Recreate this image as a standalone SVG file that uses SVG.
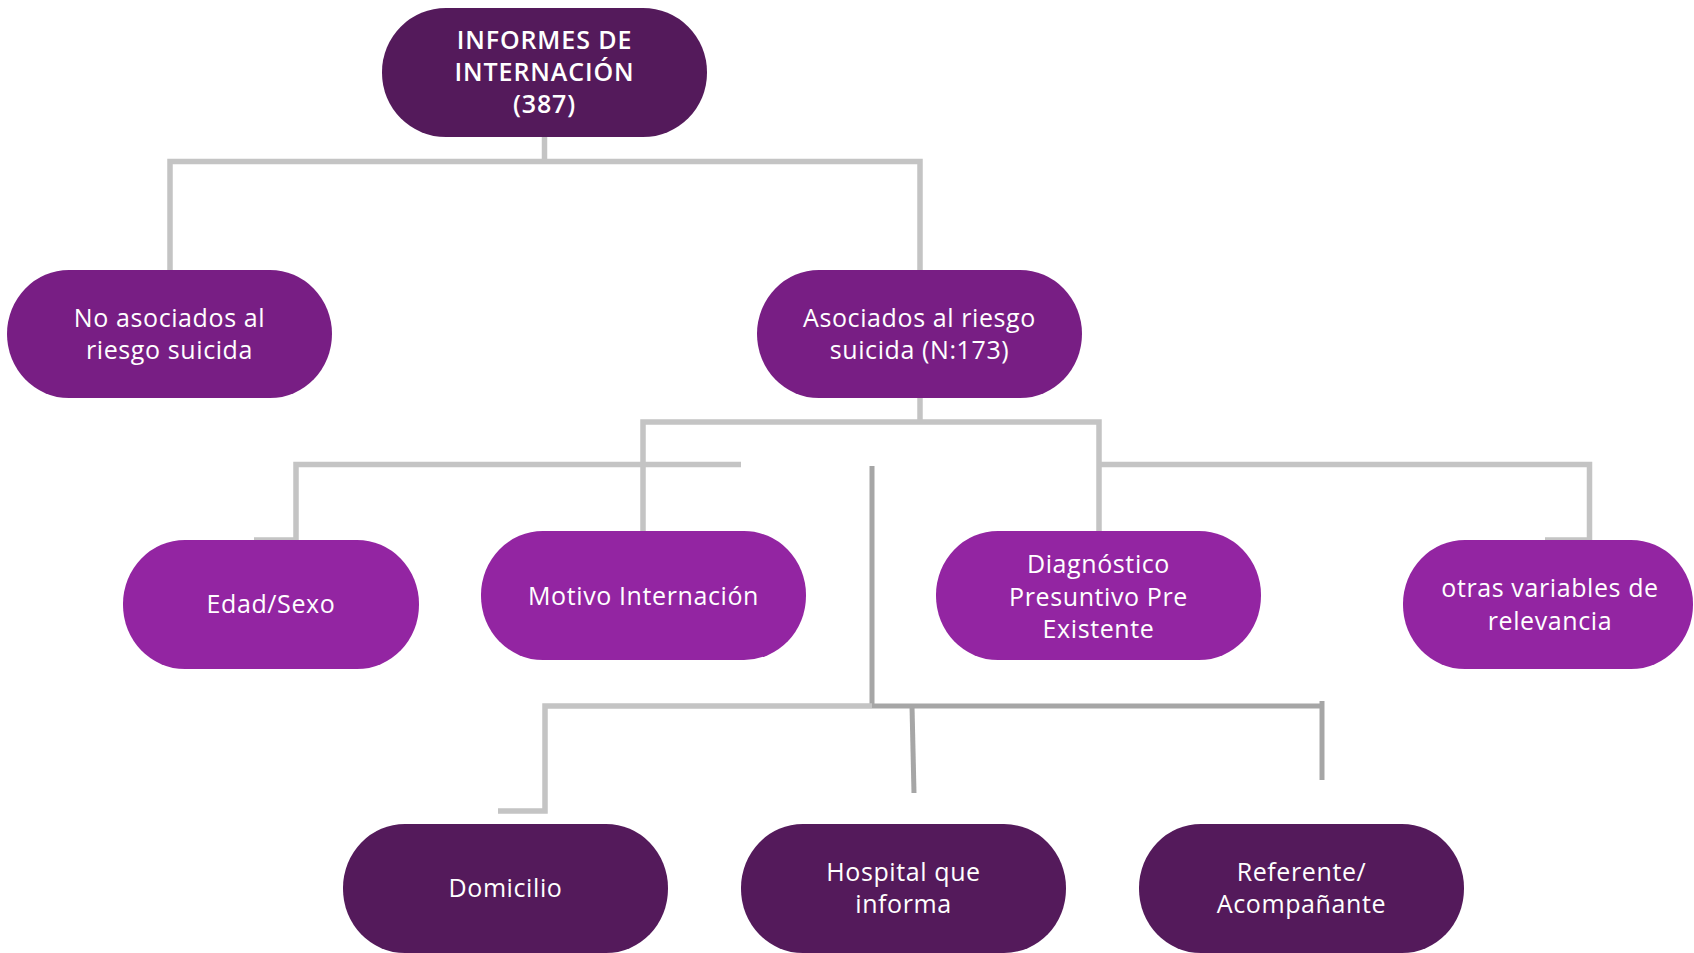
<svg xmlns="http://www.w3.org/2000/svg" width="1694" height="953" viewBox="0 0 1694 953">
<style>
.dark{fill:#541A5B}
.mid{fill:#781E84}
.light{fill:#9325A2}
text{font-family:"Open Sans","Liberation Sans",sans-serif;font-size:25px;fill:#ffffff;text-anchor:middle;letter-spacing:0.6px}
.bold{font-weight:600;letter-spacing:0.9px}
.ln{fill:none;stroke:#C4C4C4;stroke-width:5.5;stroke-linejoin:miter;stroke-linecap:butt}
.ln2{fill:none;stroke:#A6A6A6;stroke-width:5;stroke-linecap:butt}
</style>
<rect width="1694" height="953" fill="#ffffff"/>
<g id="connectors">
<polyline class="ln" points="544.5,137 544.5,161.5"/>
<polyline class="ln" points="170,270 170,161.5 920,161.5 920,270"/>
<polyline class="ln" points="920,398 920,422"/>
<polyline class="ln" points="643,531 643,422 1099,422 1099,531"/>
<polyline class="ln" points="254,540 296,540 296,464.5 741,464.5"/>
<polyline class="ln" points="1099,464.5 1589.5,464.5 1589.5,540 1545,540"/>
<polyline class="ln2" points="872,466 872,706"/>
<polyline class="ln" points="498,811 545,811 545,706 872,706"/>
<polyline class="ln2" points="872,706 1322,706"/>
<polyline class="ln2" points="1322,701 1322,780"/>
<polyline class="ln2" points="912,706 914,793"/>
</g>
<g id="root">
<rect class="dark" x="382" y="8" width="325" height="129" rx="64" ry="64"/>
<text class="bold" x="544.5" y="49">INFORMES DE</text>
<text class="bold" x="544.5" y="81">INTERNACIÓN</text>
<text class="bold" x="544.5" y="113">(387)</text>
</g>
<g id="no-asociados">
<rect class="mid" x="7" y="270" width="325" height="128" rx="62" ry="64"/>
<text x="169.5" y="327">No asociados al</text>
<text x="169.5" y="359">riesgo suicida</text>
</g>
<g id="asociados">
<rect class="mid" x="757" y="270" width="325" height="128" rx="62" ry="64"/>
<text x="919.5" y="327">Asociados al riesgo</text>
<text x="919.5" y="359">suicida (N:173)</text>
</g>
<g id="edad-sexo">
<rect class="light" x="123" y="540" width="296" height="129" rx="62" ry="64"/>
<text x="271" y="613">Edad/Sexo</text>
</g>
<g id="motivo">
<rect class="light" x="481" y="531" width="325" height="129" rx="62" ry="64"/>
<text x="643.5" y="605">Motivo Internación</text>
</g>
<g id="diagnostico">
<rect class="light" x="936" y="531" width="325" height="129" rx="62" ry="64"/>
<text x="1098.5" y="573">Diagnóstico</text>
<text x="1098.5" y="605.5">Presuntivo Pre</text>
<text x="1098.5" y="638">Existente</text>
</g>
<g id="otras">
<rect class="light" x="1403" y="540" width="290" height="129" rx="62" ry="64"/>
<text x="1550" y="597">otras variables de</text>
<text x="1550" y="629.5">relevancia</text>
</g>
<g id="domicilio">
<rect class="dark" x="343" y="824" width="325" height="129" rx="62" ry="64"/>
<text x="505.5" y="897">Domicilio</text>
</g>
<g id="hospital">
<rect class="dark" x="741" y="824" width="325" height="129" rx="62" ry="64"/>
<text x="903.5" y="881">Hospital que</text>
<text x="903.5" y="913">informa</text>
</g>
<g id="referente">
<rect class="dark" x="1139" y="824" width="325" height="129" rx="62" ry="64"/>
<text x="1301.5" y="881">Referente/</text>
<text x="1301.5" y="913">Acompañante</text>
</g>
</svg>
